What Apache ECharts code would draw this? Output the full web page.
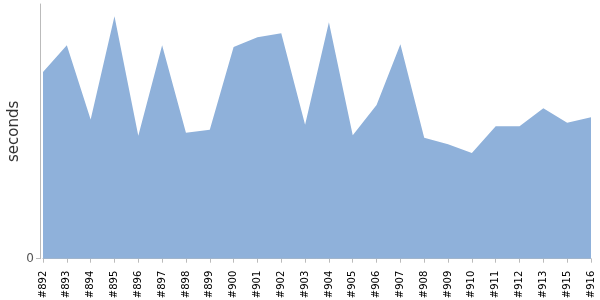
<!DOCTYPE html>
<html>
<head>
<meta charset="utf-8">
<script src="https://cdn.jsdelivr.net/npm/echarts@6/dist/echarts.min.js"></script>
<style>html,body{margin:0;padding:0;background:#fff;}#c{width:600px;height:300px;}</style>
</head>
<body>
<div id="c"></div>
<script>
var categories = ['#892','#893','#894','#895','#896','#897','#898','#899','#900','#901','#902','#903','#904','#905','#906','#907','#908','#909','#910','#911','#912','#913','#915','#916'];
var seconds = [187, 213.7, 139.4, 242.7, 123, 213.7, 126, 129, 212, 221.7, 225.7, 134, 236.7, 123.7, 154, 214.7, 121, 114.7, 105.7, 132.7, 132.7, 150.7, 136, 141.7];
var yTicks = [0];

var chart = echarts.init(document.getElementById('c'), null, {renderer: 'canvas'});
chart.setOption({
  animation: false,
  grid: {left: 43, right: 9, top: 4, bottom: 41.3, containLabel: false, outerBoundsMode: 'none'},
  xAxis: {
    type: 'category',
    data: categories,
    boundaryGap: false,
    offset: 4,
    axisLine: {show: true, lineStyle: {color: '#bbbbbb', width: 1}},
    axisTick: {show: true, length: 4, alignWithLabel: true, lineStyle: {color: '#bbbbbb'}},
    axisLabel: {rotate: 90, interval: 0, margin: 8, color: '#000', fontFamily: 'DejaVu Sans', fontSize: 10},
    splitLine: {show: false}
  },
  yAxis: {
    type: 'value',
    min: 0,
    max: 255,
    offset: 3,
    name: 'seconds',
    nameLocation: 'middle',
    nameGap: 18,
    nameMoveOverlap: false,
    nameTextStyle: {color: '#333', fontFamily: 'DejaVu Sans', fontSize: 15},
    axisLine: {show: true, lineStyle: {color: '#bbbbbb', width: 1}},
    axisTick: {show: true, length: 4, customValues: yTicks, lineStyle: {color: '#bbbbbb'}},
    axisLabel: {customValues: yTicks, color: '#555', fontFamily: 'DejaVu Sans', fontSize: 12, margin: 6},
    splitLine: {show: false}
  },
  series: [{
    type: 'line',
    data: seconds,
    symbol: 'none',
    lineStyle: {width: 0, color: '#8fb1da'},
    itemStyle: {color: '#8fb1da'},
    areaStyle: {color: '#8fb1da', opacity: 1}
  }]
});
</script>
</body>
</html>
